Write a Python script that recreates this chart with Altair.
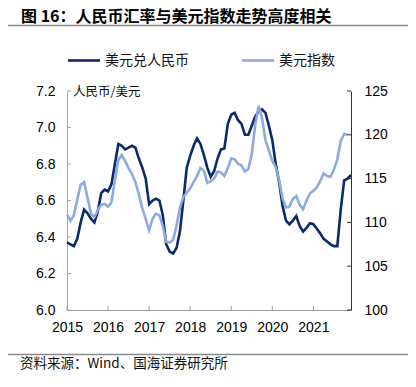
import altair as alt
import pandas as pd

# ---------------- data ----------------
usdcny = [6.37, 6.36, 6.35, 6.39, 6.48, 6.55, 6.53, 6.50, 6.48, 6.54,
          6.64, 6.66, 6.65, 6.69, 6.80, 6.91, 6.90, 6.88, 6.89, 6.90,
          6.89, 6.83, 6.78, 6.72, 6.58, 6.60, 6.61, 6.60, 6.52, 6.36,
          6.32, 6.31, 6.34, 6.43, 6.60, 6.78, 6.845, 6.90, 6.94, 6.91,
          6.85, 6.78, 6.73, 6.76, 6.83, 6.88, 6.885, 7.02, 7.07, 7.08,
          7.04, 7.02, 6.96, 6.96, 7.01, 7.06, 7.09, 7.10, 7.08, 7.01,
          6.93, 6.80, 6.70, 6.57, 6.49, 6.47, 6.49, 6.515, 6.46, 6.43,
          6.45, 6.475, 6.47, 6.445, 6.42, 6.39, 6.375, 6.36, 6.35, 6.35,
          6.55, 6.71, 6.72, 6.74]
dxy = [110.9, 110.2, 110.8, 112.6, 114.3, 114.6, 112.8, 111.0, 110.6, 111.4,
       112.0, 112.1, 111.8, 112.3, 114.8, 117.1, 117.7, 117.0, 116.2, 115.5,
       114.6, 113.2, 111.6, 110.4, 109.1, 110.4, 111.0, 110.8, 109.6, 107.8,
       107.7, 108.0, 109.6, 111.7, 112.9, 113.4, 113.9, 114.6, 115.3, 116.2,
       115.9, 114.5, 114.7, 115.0, 115.8, 115.7, 115.3, 116.2, 117.3, 117.2,
       116.7, 116.5, 115.8, 116.1, 117.8, 121.1, 123.3, 121.9, 119.4, 118.2,
       117.0, 116.3, 114.8, 112.7, 111.7, 111.8, 112.7, 113.0, 112.0, 111.5,
       112.5, 113.3, 113.6, 114.0, 114.7, 115.6, 115.3, 115.2, 116.0, 117.2,
       119.3, 120.1, 120.0]
months_cny = list(range(len(usdcny)))
months_dxy = list(range(len(dxy)))

year_ticks = [0, 12, 24, 36, 48, 60, 72]
year_labels = ["2015", "2016", "2017", "2018", "2019", "2020", "2021"]
left_ticks = [6.0, 6.2, 6.4, 6.6, 6.8, 7.0, 7.2]
right_ticks = [100, 105, 110, 115, 120, 125]

title_text = "图 16：人民币汇率与美元指数走势高度相关"
legend_names = ["美元兑人民币", "美元指数"]
unit_text = "人民币/美元"
source_text = "资料来源：Wind、国海证券研究所"

DARK = "#0c2a6b"
LIGHT = "#8eaadc"
W, H = 284, 219
NUM_FONT = "Liberation Sans"
CJK = "Noto Sans CJK SC"

# ---------------- scales / axes ----------------
xscale = alt.Scale(domain=[0, 83], nice=False, zero=False)
label_map = "{" + ",".join(f"'{t}':'{l}'" for t, l in zip(year_ticks, year_labels)) + "}"
x_axis = alt.Axis(values=year_ticks, labelExpr=f"{label_map}[toString(datum.value)]",
                  tickSize=0, labelPadding=10, domainColor="#9a9a9a", grid=False,
                  title=None, labelFont=NUM_FONT, labelFontSize=14, labelColor="#000",
                  labelFlush=False)
X = alt.X("m:Q", scale=xscale, axis=x_axis)

lscale = alt.Scale(domain=[6.0, 7.2], nice=False, zero=False)
rscale = alt.Scale(domain=[100, 125], nice=False, zero=False)

df_cny = pd.DataFrame({"m": months_cny, "v": usdcny})
df_dxy = pd.DataFrame({"m": months_dxy, "v": dxy})

cny_line = alt.Chart(df_cny).mark_line(color=DARK, strokeWidth=2.6).encode(
    x=X,
    y=alt.Y("v:Q", scale=lscale,
            axis=alt.Axis(orient="left", values=left_ticks, format=".1f", tickSize=0,
                          labelPadding=12, domainColor="#a8a8a8", grid=False, title=None,
                          labelFont=NUM_FONT, labelFontSize=14, labelColor="#000")),
)
dxy_line = alt.Chart(df_dxy).mark_line(color=LIGHT, strokeWidth=2.6).encode(
    x=X,
    y=alt.Y("v:Q", scale=rscale,
            axis=alt.Axis(orient="right", values=right_ticks, format="d", tickSize=0,
                          labelPadding=13, domainColor="#333", grid=False, title=None,
                          labelFont=NUM_FONT, labelFontSize=14, labelColor="#000")),
)

# inward tick marks
xt = alt.Chart(pd.DataFrame({"m": year_ticks})).mark_rule(color="#9a9a9a").encode(
    x=X, y=alt.value(H - 4), y2=alt.value(H))
lt = alt.Chart(pd.DataFrame({"v": left_ticks})).mark_rule(color="#a8a8a8").encode(
    y=alt.Y("v:Q", scale=lscale, axis=None), x=alt.value(0), x2=alt.value(4))
rt = alt.Chart(pd.DataFrame({"v": right_ticks})).mark_rule(color="#333").encode(
    y=alt.Y("v:Q", scale=rscale, axis=None), x=alt.value(W - 4), x2=alt.value(W))

one = pd.DataFrame({"a": [0]})


def text(t, x, y, size, font=CJK, weight="normal", color="#111", align="left"):
    return alt.Chart(pd.DataFrame({"t": [t]})).mark_text(
        align=align, baseline="middle", font=font, fontSize=size,
        fontWeight=weight, color=color).encode(
        text="t:N", x=alt.value(x), y=alt.value(y))


def hline(x1, x2, y, color, width):
    return alt.Chart(one).mark_rule(color=color, strokeWidth=width).encode(
        x=alt.value(x1), x2=alt.value(x2), y=alt.value(y))


title = text(title_text, -46, -74.5, 16, weight="bold", color="#000")
top_rule = hline(-60, 341, -65.5, "#8a8a8a", 1.6)
bot_rule = hline(-60, 341, 263.5, "#8a8a8a", 1.6)
leg1_line = hline(1, 33, -30.5, DARK, 2.6)
leg2_line = hline(175, 207, -30.5, LIGHT, 2.6)
leg1_txt = text(legend_names[0], 38, -30.5, 14)
leg2_txt = text(legend_names[1], 212, -30.5, 14)
unit = text(unit_text, 6, 1, 12.5)
source = text(source_text, -47, 273, 13.5)

chart = alt.layer(
    cny_line, dxy_line, xt, lt, rt,
    title, top_rule, bot_rule, leg1_line, leg2_line, leg1_txt, leg2_txt, unit, source
).resolve_scale(y="independent").properties(
    width=W, height=H,
    autosize=alt.AutoSizeParams(type="none"),
    padding={"left": 59, "top": 83, "right": 57, "bottom": 68},
).configure_view(stroke=None)

chart.save("out.html", embed_options={"renderer": "svg", "actions": False})
